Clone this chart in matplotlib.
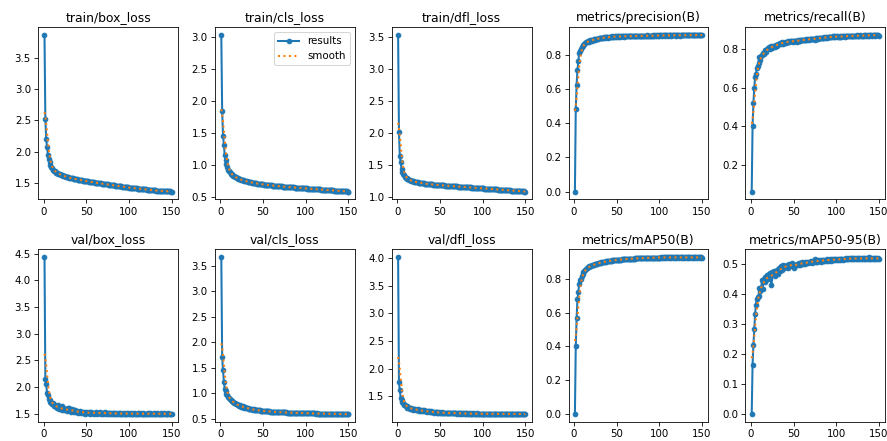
import numpy as np
import matplotlib
matplotlib.use("Agg")
import matplotlib.pyplot as plt

# Training curves (epochs 1..150)
epochs = list(range(1, 151))

train_box = [
    3.870, 2.520, 2.200, 2.080, 1.950, 1.880, 1.830, 1.790, 1.760, 1.735,
    1.715, 1.700, 1.688, 1.678, 1.668, 1.660, 1.652, 1.645, 1.640, 1.634,
    1.628, 1.622, 1.617, 1.612, 1.608, 1.603, 1.599, 1.595, 1.591, 1.587,
    1.584, 1.580, 1.577, 1.574, 1.571, 1.568, 1.565, 1.562, 1.559, 1.557,
    1.554, 1.551, 1.549, 1.546, 1.544, 1.541, 1.539, 1.536, 1.534, 1.532,
    1.529, 1.527, 1.525, 1.522, 1.520, 1.518, 1.516, 1.513, 1.511, 1.509,
    1.507, 1.505, 1.503, 1.501, 1.498, 1.496, 1.494, 1.492, 1.490, 1.488,
    1.486, 1.484, 1.482, 1.480, 1.478, 1.476, 1.474, 1.472, 1.470, 1.468,
    1.466, 1.464, 1.462, 1.460, 1.458, 1.456, 1.454, 1.452, 1.450, 1.448,
    1.446, 1.444, 1.442, 1.440, 1.438, 1.436, 1.434, 1.432, 1.430, 1.428,
    1.427, 1.425, 1.424, 1.422, 1.421, 1.419, 1.418, 1.416, 1.415, 1.413,
    1.412, 1.410, 1.409, 1.407, 1.406, 1.404, 1.403, 1.401, 1.400, 1.398,
    1.397, 1.395, 1.394, 1.392, 1.391, 1.389, 1.388, 1.386, 1.385, 1.383,
    1.382, 1.381, 1.380, 1.379, 1.378, 1.377, 1.376, 1.375, 1.374, 1.373,
    1.372, 1.371, 1.370, 1.370, 1.369, 1.368, 1.367, 1.366, 1.365, 1.364,
]

train_cls = [
    3.030, 1.850, 1.460, 1.320, 1.150, 1.080, 1.020, 0.970, 0.930, 0.905,
    0.885, 0.868, 0.855, 0.843, 0.833, 0.824, 0.816, 0.808, 0.801, 0.795,
    0.789, 0.783, 0.778, 0.773, 0.768, 0.764, 0.760, 0.756, 0.752, 0.748,
    0.745, 0.742, 0.739, 0.736, 0.733, 0.730, 0.727, 0.725, 0.722, 0.720,
    0.718, 0.715, 0.713, 0.711, 0.709, 0.707, 0.705, 0.703, 0.701, 0.699,
    0.697, 0.696, 0.694, 0.692, 0.691, 0.689, 0.688, 0.686, 0.685, 0.683,
    0.682, 0.680, 0.679, 0.678, 0.676, 0.675, 0.674, 0.672, 0.671, 0.670,
    0.669, 0.667, 0.666, 0.665, 0.664, 0.663, 0.661, 0.660, 0.659, 0.658,
    0.657, 0.656, 0.655, 0.653, 0.652, 0.651, 0.650, 0.649, 0.648, 0.647,
    0.646, 0.645, 0.644, 0.643, 0.642, 0.641, 0.640, 0.639, 0.638, 0.637,
    0.636, 0.635, 0.634, 0.633, 0.632, 0.631, 0.630, 0.629, 0.628, 0.627,
    0.626, 0.625, 0.624, 0.623, 0.622, 0.621, 0.620, 0.619, 0.618, 0.617,
    0.616, 0.615, 0.614, 0.613, 0.612, 0.611, 0.610, 0.609, 0.608, 0.607,
    0.606, 0.605, 0.604, 0.603, 0.602, 0.601, 0.600, 0.599, 0.598, 0.597,
    0.596, 0.595, 0.594, 0.593, 0.592, 0.591, 0.590, 0.589, 0.588, 0.587,
]

train_dfl = [
    3.530, 2.020, 1.640, 1.550, 1.450, 1.400, 1.370, 1.345, 1.325, 1.310,
    1.298, 1.288, 1.280, 1.273, 1.267, 1.262, 1.257, 1.253, 1.249, 1.245,
    1.242, 1.239, 1.236, 1.233, 1.231, 1.228, 1.226, 1.224, 1.222, 1.220,
    1.218, 1.216, 1.214, 1.213, 1.211, 1.209, 1.208, 1.206, 1.205, 1.203,
    1.202, 1.201, 1.199, 1.198, 1.197, 1.196, 1.194, 1.193, 1.192, 1.191,
    1.190, 1.189, 1.188, 1.187, 1.186, 1.185, 1.184, 1.183, 1.182, 1.181,
    1.180, 1.179, 1.178, 1.177, 1.176, 1.175, 1.174, 1.173, 1.172, 1.171,
    1.170, 1.169, 1.168, 1.167, 1.166, 1.165, 1.164, 1.163, 1.162, 1.161,
    1.160, 1.159, 1.158, 1.157, 1.156, 1.155, 1.154, 1.153, 1.152, 1.151,
    1.150, 1.149, 1.148, 1.147, 1.146, 1.145, 1.144, 1.143, 1.142, 1.141,
    1.140, 1.139, 1.138, 1.137, 1.136, 1.135, 1.134, 1.133, 1.132, 1.131,
    1.130, 1.129, 1.128, 1.127, 1.126, 1.125, 1.124, 1.123, 1.122, 1.121,
    1.120, 1.119, 1.118, 1.117, 1.116, 1.115, 1.114, 1.113, 1.112, 1.111,
    1.110, 1.109, 1.108, 1.107, 1.106, 1.105, 1.104, 1.103, 1.102, 1.101,
    1.100, 1.099, 1.098, 1.097, 1.096, 1.095, 1.094, 1.093, 1.092, 1.091,
]

precision = [
    0.000, 0.480, 0.625, 0.710, 0.760, 0.812, 0.820, 0.835, 0.845, 0.850,
    0.858, 0.862, 0.868, 0.872, 0.876, 0.878, 0.880, 0.875, 0.883, 0.885,
    0.882, 0.886, 0.889, 0.887, 0.891, 0.893, 0.890, 0.894, 0.896, 0.895,
    0.897, 0.898, 0.896, 0.899, 0.900, 0.898, 0.901, 0.900, 0.902, 0.899,
    0.903, 0.902, 0.904, 0.906, 0.903, 0.905, 0.904, 0.906, 0.905, 0.907,
    0.905, 0.907, 0.906, 0.904, 0.908, 0.906, 0.907, 0.905, 0.908, 0.907,
    0.909, 0.906, 0.908, 0.910, 0.907, 0.909, 0.908, 0.906, 0.909, 0.910,
    0.908, 0.910, 0.909, 0.907, 0.910, 0.909, 0.911, 0.908, 0.910, 0.909,
    0.911, 0.910, 0.908, 0.911, 0.910, 0.912, 0.909, 0.911, 0.910, 0.908,
    0.911, 0.912, 0.910, 0.909, 0.912, 0.911, 0.913, 0.910, 0.912, 0.911,
    0.913, 0.912, 0.910, 0.913, 0.912, 0.911, 0.913, 0.912, 0.914, 0.911,
    0.913, 0.912, 0.914, 0.911, 0.913, 0.912, 0.914, 0.913, 0.911, 0.913,
    0.914, 0.912, 0.913, 0.911, 0.914, 0.913, 0.912, 0.914, 0.913, 0.915,
    0.912, 0.914, 0.913, 0.915, 0.912, 0.914, 0.913, 0.915, 0.914, 0.912,
    0.914, 0.915, 0.913, 0.914, 0.912, 0.915, 0.914, 0.913, 0.915, 0.916,
]

recall = [
    0.060, 0.400, 0.520, 0.600, 0.655, 0.670, 0.705, 0.715, 0.730, 0.760,
    0.745, 0.765, 0.770, 0.780, 0.775, 0.790, 0.795, 0.785, 0.800, 0.805,
    0.810, 0.800, 0.812, 0.815, 0.808, 0.818, 0.820, 0.812, 0.822, 0.825,
    0.820, 0.826, 0.830, 0.835, 0.828, 0.832, 0.836, 0.830, 0.834, 0.838,
    0.835, 0.840, 0.838, 0.842, 0.839, 0.843, 0.841, 0.844, 0.840, 0.845,
    0.843, 0.846, 0.844, 0.838, 0.847, 0.845, 0.848, 0.846, 0.849, 0.847,
    0.850, 0.848, 0.851, 0.849, 0.852, 0.850, 0.853, 0.851, 0.854, 0.852,
    0.855, 0.853, 0.856, 0.854, 0.850, 0.857, 0.855, 0.858, 0.856, 0.859,
    0.857, 0.860, 0.858, 0.861, 0.859, 0.862, 0.860, 0.863, 0.861, 0.864,
    0.862, 0.865, 0.863, 0.866, 0.864, 0.867, 0.865, 0.868, 0.866, 0.869,
    0.867, 0.865, 0.862, 0.866, 0.868, 0.864, 0.869, 0.867, 0.870, 0.866,
    0.869, 0.871, 0.868, 0.870, 0.867, 0.871, 0.869, 0.872, 0.868, 0.870,
    0.872, 0.869, 0.871, 0.873, 0.870, 0.872, 0.868, 0.873, 0.871, 0.869,
    0.872, 0.874, 0.871, 0.873, 0.870, 0.874, 0.872, 0.875, 0.871, 0.873,
    0.874, 0.872, 0.875, 0.873, 0.871, 0.874, 0.876, 0.873, 0.875, 0.872,
]

val_box = [
    4.430, 2.150, 2.050, 1.880, 1.850, 1.780, 1.760, 1.720, 1.700, 1.680,
    1.700, 1.650, 1.670, 1.620, 1.640, 1.600, 1.660, 1.590, 1.610, 1.580,
    1.640, 1.570, 1.600, 1.560, 1.590, 1.580, 1.550, 1.600, 1.560, 1.610,
    1.570, 1.540, 1.580, 1.550, 1.560, 1.530, 1.560, 1.540, 1.550, 1.520,
    1.540, 1.530, 1.550, 1.520, 1.530, 1.510, 1.540, 1.520, 1.500, 1.530,
    1.520, 1.510, 1.530, 1.500, 1.520, 1.540, 1.510, 1.520, 1.500, 1.510,
    1.530, 1.510, 1.500, 1.520, 1.510, 1.530, 1.500, 1.510, 1.520, 1.500,
    1.510, 1.530, 1.500, 1.510, 1.490, 1.520, 1.510, 1.500, 1.520, 1.490,
    1.510, 1.500, 1.520, 1.490, 1.510, 1.500, 1.490, 1.510, 1.500, 1.520,
    1.490, 1.500, 1.510, 1.490, 1.500, 1.510, 1.490, 1.500, 1.510, 1.500,
    1.490, 1.510, 1.500, 1.490, 1.500, 1.510, 1.490, 1.500, 1.490, 1.510,
    1.500, 1.490, 1.510, 1.500, 1.490, 1.500, 1.510, 1.490, 1.500, 1.490,
    1.500, 1.510, 1.490, 1.500, 1.510, 1.490, 1.500, 1.490, 1.510, 1.500,
    1.490, 1.500, 1.510, 1.490, 1.500, 1.490, 1.510, 1.500, 1.490, 1.500,
    1.510, 1.490, 1.500, 1.490, 1.500, 1.510, 1.490, 1.500, 1.500, 1.495,
]

val_cls = [
    3.670, 1.720, 1.450, 1.230, 1.090, 1.050, 0.980, 0.960, 0.930, 0.900,
    0.880, 0.870, 0.850, 0.840, 0.830, 0.810, 0.800, 0.790, 0.780, 0.760,
    0.770, 0.750, 0.760, 0.740, 0.735, 0.745, 0.725, 0.720, 0.730, 0.715,
    0.710, 0.705, 0.700, 0.698, 0.690, 0.695, 0.685, 0.680, 0.683, 0.675,
    0.672, 0.670, 0.668, 0.665, 0.662, 0.665, 0.660, 0.657, 0.655, 0.652,
    0.650, 0.652, 0.648, 0.646, 0.645, 0.643, 0.642, 0.640, 0.641, 0.638,
    0.637, 0.636, 0.635, 0.633, 0.634, 0.632, 0.630, 0.631, 0.629, 0.628,
    0.627, 0.628, 0.626, 0.625, 0.624, 0.625, 0.623, 0.622, 0.621, 0.622,
    0.620, 0.619, 0.620, 0.618, 0.617, 0.618, 0.616, 0.615, 0.616, 0.614,
    0.613, 0.614, 0.612, 0.611, 0.612, 0.610, 0.611, 0.609, 0.610, 0.608,
    0.607, 0.608, 0.606, 0.607, 0.605, 0.606, 0.604, 0.605, 0.603, 0.604,
    0.603, 0.602, 0.603, 0.601, 0.602, 0.600, 0.601, 0.600, 0.599, 0.600,
    0.599, 0.598, 0.599, 0.597, 0.598, 0.597, 0.596, 0.597, 0.596, 0.595,
    0.596, 0.595, 0.594, 0.595, 0.594, 0.593, 0.594, 0.593, 0.592, 0.593,
    0.592, 0.591, 0.592, 0.591, 0.590, 0.591, 0.590, 0.589, 0.590, 0.589,
]

val_dfl = [
    4.010, 1.760, 1.610, 1.480, 1.440, 1.400, 1.380, 1.350, 1.340, 1.330,
    1.320, 1.300, 1.310, 1.290, 1.280, 1.300, 1.270, 1.280, 1.260, 1.270,
    1.280, 1.250, 1.260, 1.270, 1.240, 1.250, 1.260, 1.240, 1.250, 1.230,
    1.250, 1.240, 1.230, 1.240, 1.220, 1.230, 1.240, 1.220, 1.230, 1.215,
    1.225, 1.220, 1.210, 1.225, 1.215, 1.210, 1.220, 1.205, 1.215, 1.210,
    1.200, 1.215, 1.205, 1.210, 1.200, 1.210, 1.205, 1.200, 1.210, 1.200,
    1.205, 1.200, 1.195, 1.205, 1.200, 1.195, 1.205, 1.195, 1.200, 1.190,
    1.200, 1.195, 1.190, 1.200, 1.195, 1.190, 1.195, 1.200, 1.190, 1.195,
    1.190, 1.195, 1.190, 1.185, 1.195, 1.190, 1.185, 1.190, 1.195, 1.185,
    1.190, 1.185, 1.190, 1.195, 1.185, 1.190, 1.185, 1.190, 1.185, 1.190,
    1.185, 1.190, 1.185, 1.180, 1.190, 1.185, 1.190, 1.180, 1.185, 1.190,
    1.185, 1.180, 1.190, 1.185, 1.180, 1.185, 1.190, 1.185, 1.180, 1.185,
    1.190, 1.180, 1.185, 1.180, 1.185, 1.190, 1.180, 1.185, 1.180, 1.185,
    1.180, 1.185, 1.190, 1.180, 1.185, 1.180, 1.185, 1.180, 1.185, 1.180,
    1.185, 1.180, 1.185, 1.180, 1.185, 1.180, 1.185, 1.180, 1.185, 1.180,
]

map50 = [
    0.000, 0.400, 0.570, 0.680, 0.720, 0.770, 0.790, 0.800, 0.815, 0.830,
    0.840, 0.845, 0.852, 0.858, 0.862, 0.866, 0.870, 0.872, 0.874, 0.876,
    0.878, 0.880, 0.882, 0.884, 0.886, 0.887, 0.889, 0.890, 0.892, 0.893,
    0.894, 0.896, 0.897, 0.898, 0.899, 0.900, 0.901, 0.902, 0.903, 0.904,
    0.905, 0.905, 0.906, 0.907, 0.908, 0.908, 0.909, 0.910, 0.910, 0.911,
    0.911, 0.912, 0.912, 0.913, 0.913, 0.914, 0.914, 0.915, 0.915, 0.915,
    0.916, 0.916, 0.917, 0.917, 0.917, 0.918, 0.918, 0.918, 0.919, 0.919,
    0.919, 0.920, 0.920, 0.920, 0.920, 0.921, 0.921, 0.921, 0.921, 0.922,
    0.922, 0.922, 0.922, 0.922, 0.923, 0.923, 0.923, 0.923, 0.923, 0.924,
    0.924, 0.924, 0.924, 0.924, 0.924, 0.925, 0.925, 0.925, 0.925, 0.925,
    0.925, 0.926, 0.925, 0.926, 0.925, 0.926, 0.926, 0.925, 0.926, 0.926,
    0.925, 0.926, 0.926, 0.925, 0.926, 0.926, 0.925, 0.926, 0.926, 0.925,
    0.926, 0.926, 0.925, 0.926, 0.926, 0.925, 0.926, 0.926, 0.925, 0.926,
    0.926, 0.925, 0.926, 0.926, 0.925, 0.926, 0.926, 0.925, 0.926, 0.926,
    0.925, 0.926, 0.926, 0.925, 0.926, 0.926, 0.925, 0.926, 0.926, 0.925,
]

map50_95 = [
    0.000, 0.165, 0.230, 0.285, 0.335, 0.365, 0.385, 0.390, 0.392, 0.420,
    0.410, 0.420, 0.445, 0.418, 0.450, 0.440, 0.458, 0.445, 0.462, 0.455,
    0.468, 0.450, 0.470, 0.430, 0.472, 0.465, 0.478, 0.460, 0.475, 0.470,
    0.480, 0.468, 0.485, 0.475, 0.492, 0.480, 0.488, 0.495, 0.485, 0.493,
    0.490, 0.497, 0.488, 0.495, 0.500, 0.492, 0.498, 0.502, 0.496, 0.488,
    0.492, 0.498, 0.495, 0.500, 0.497, 0.502, 0.498, 0.503, 0.500, 0.505,
    0.499, 0.504, 0.501, 0.506, 0.502, 0.507, 0.503, 0.508, 0.505, 0.506,
    0.509, 0.504, 0.510, 0.507, 0.515, 0.506, 0.511, 0.508, 0.512, 0.509,
    0.513, 0.508, 0.512, 0.510, 0.514, 0.509, 0.513, 0.511, 0.515, 0.510,
    0.514, 0.512, 0.516, 0.511, 0.515, 0.513, 0.517, 0.512, 0.516, 0.514,
    0.517, 0.513, 0.516, 0.514, 0.518, 0.515, 0.517, 0.513, 0.518, 0.516,
    0.519, 0.515, 0.518, 0.516, 0.520, 0.517, 0.519, 0.515, 0.521, 0.517,
    0.519, 0.516, 0.520, 0.518, 0.521, 0.517, 0.519, 0.516, 0.520, 0.518,
    0.521, 0.517, 0.519, 0.518, 0.521, 0.516, 0.520, 0.518, 0.522, 0.517,
    0.520, 0.518, 0.521, 0.517, 0.519, 0.518, 0.520, 0.517, 0.519, 0.518,
]

titles = [
    "train/box_loss", "train/cls_loss", "train/dfl_loss",
    "metrics/precision(B)", "metrics/recall(B)",
    "val/box_loss", "val/cls_loss", "val/dfl_loss",
    "metrics/mAP50(B)", "metrics/mAP50-95(B)",
]
series = [
    train_box, train_cls, train_dfl, precision, recall,
    val_box, val_cls, val_dfl, map50, map50_95,
]


def gauss_smooth(y, sigma=3, truncate=4.0):
    # same as scipy gaussian_filter1d with mode="reflect"
    r = int(truncate * sigma + 0.5)
    k = np.exp(-0.5 * (np.arange(-r, r + 1) / sigma) ** 2)
    k /= k.sum()
    yp = np.pad(np.asarray(y, dtype=float), r, mode="symmetric")
    return np.convolve(yp, k, mode="valid")


dpi = 73.92
fig, ax = plt.subplots(2, 5, figsize=(887 / dpi, 441 / dpi), dpi=dpi)
# the reference is cut at the right edge, so lay the panels out by hand
fig.subplots_adjust(left=0.043, right=0.998, bottom=0.043, top=0.939,
                    wspace=0.264, hspace=0.29)
ax = ax.ravel()

x = np.array(epochs)
for i, (t, y) in enumerate(zip(titles, series)):
    ax[i].plot(x, y, marker=".", label="results", linewidth=2, markersize=9)
    ax[i].plot(x, gauss_smooth(y), ":", label="smooth", linewidth=2)
    ax[i].set_title(t, fontsize=12)

ax[1].legend()
fig.savefig("out.png", dpi=dpi)
